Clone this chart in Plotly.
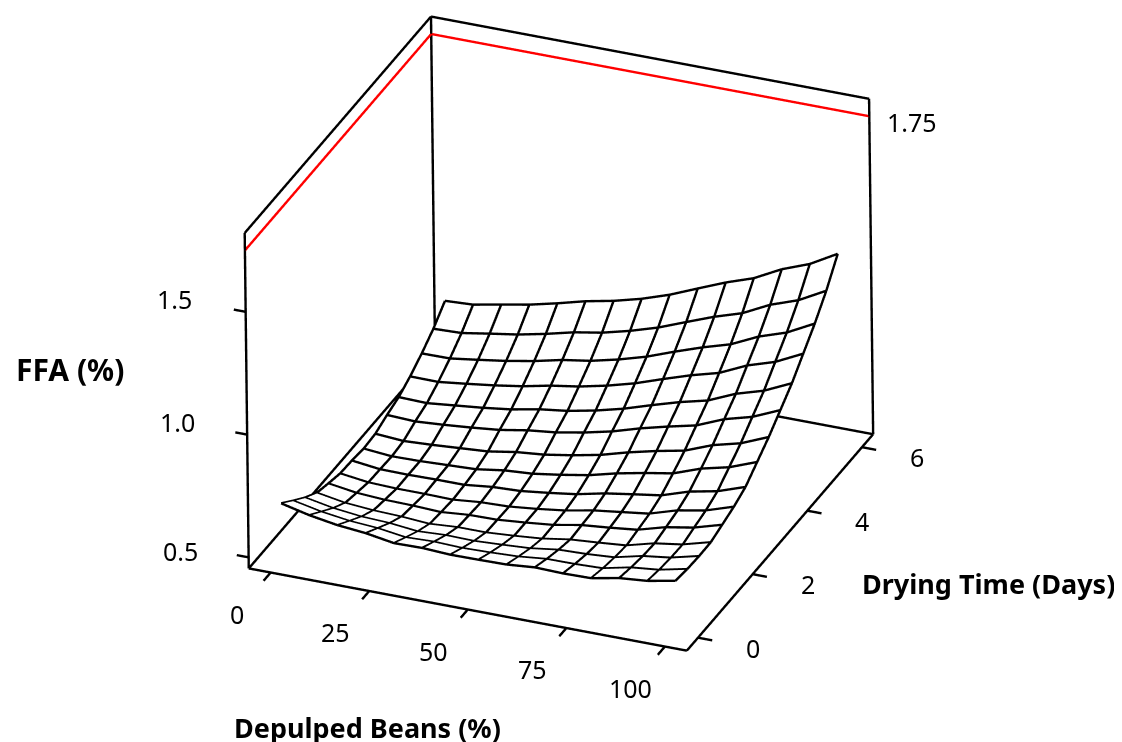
import math
import plotly.graph_objects as go

# Surface: one list of FFA values per drying-time row
depulped_beans = [0, 7.14, 14.29, 21.43, 28.57, 35.71, 42.86, 50, 57.14, 64.29, 71.43, 78.57, 85.71, 92.86, 100]
drying_days = [0, 0.43, 0.86, 1.29, 1.71, 2.14, 2.57, 3, 3.43, 3.86, 4.29, 4.71, 5.14, 5.57, 6]
ffa_00 = [.684,.657,.638,.627,.608,.610,.604,.605,.607,.617,.614,.616,.638,.648,.670]
ffa_01 = [.639,.615,.599,.591,.575,.579,.575,.578,.583,.595,.596,.600,.625,.637,.662]
ffa_02 = [.596,.574,.561,.556,.544,.550,.548,.554,.561,.577,.581,.589,.616,.631,.659]
ffa_03 = [.560,.540,.531,.527,.519,.527,.527,.535,.545,.563,.572,.582,.612,.629,.660]
ffa_04 = [.544,.527,.520,.518,.513,.523,.525,.535,.547,.568,.579,.592,.624,.644,.677]
ffa_05 = [.529,.514,.510,.510,.508,.519,.523,.535,.550,.572,.587,.602,.637,.658,.695]
ffa_06 = [.526,.512,.511,.513,.513,.526,.531,.545,.561,.586,.604,.621,.658,.681,.720]
ffa_07 = [.519,.509,.511,.516,.521,.538,.546,.563,.583,.612,.635,.655,.696,.723,.766]
ffa_08 = [.524,.516,.522,.530,.538,.557,.568,.587,.610,.642,.669,.692,.736,.765,.812]
ffa_09 = [.545,.540,.548,.558,.570,.590,.603,.624,.650,.684,.713,.739,.786,.817,.866]
ffa_10 = [.562,.559,.571,.583,.598,.620,.635,.658,.687,.723,.757,.785,.834,.868,.920]
ffa_11 = [.592,.591,.605,.620,.638,.662,.680,.705,.736,.775,.812,.843,.895,.931,.986]
ffa_12 = [.630,.631,.647,.664,.685,.711,.729,.756,.789,.831,.870,.904,.957,.995,1.053]
ffa_13 = [.675,.679,.698,.716,.740,.768,.788,.817,.852,.896,.939,.975,1.031,1.071,1.131]
ffa_14 = [.733,.739,.761,.782,.809,.839,.862,.892,.930,.977,1.023,1.062,1.120,1.163,1.226]
ffa = [ffa_00, ffa_01, ffa_02, ffa_03, ffa_04, ffa_05, ffa_06, ffa_07, ffa_08, ffa_09, ffa_10, ffa_11, ffa_12, ffa_13, ffa_14]

x_ticks = [0, 25, 50, 75, 100]
y_ticks = [0, 2, 4, 6]
z_ticks = [0.5, 1.0, 1.5]
z_tick_labels = ["0.5", "1.0", "1.5"]
limit_level = 1.75

# box limits
xlo, xhi = -5.56, 105.56
ylo, yhi = -0.409, 6.409
zlo, zhi = 0.455, 1.821

FONT = "Noto Sans"
TICK_SIZE = 25
TITLE_SIZE = 27
LINE_PX = 2.4

# view direction (towards the eye), in scaled scene space
d = (0.3406, -0.8104, 0.4765)
# data units per screen pixel along each axis
sx, sy, sz = 111.12 / 472, 6.818 / 478, 1.366 / 382


def ribbon(segments, color, width=LINE_PX, lift=0.0):
    """Thick line as a camera-facing Mesh3d strip (WebGL lines stay 1px wide)."""
    X, Y, Z, I, J, K = [], [], [], [], [], []
    for a, b in segments:
        A = (a[0] / sx, a[1] / sy, a[2] / sz)
        B = (b[0] / sx, b[1] / sy, b[2] / sz)
        t = (B[0] - A[0], B[1] - A[1], B[2] - A[2])
        w = (t[1] * d[2] - t[2] * d[1], t[2] * d[0] - t[0] * d[2], t[0] * d[1] - t[1] * d[0])
        n = math.sqrt(sum(c * c for c in w)) or 1
        w = tuple(c / n * width / 2 for c in w)
        n0 = len(X)
        for P, sgn in ((A, 1), (A, -1), (B, 1), (B, -1)):
            X.append((P[0] + sgn * w[0] + lift * d[0]) * sx)
            Y.append((P[1] + sgn * w[1] + lift * d[1]) * sy)
            Z.append((P[2] + sgn * w[2] + lift * d[2]) * sz)
        I += [n0, n0 + 1]
        J += [n0 + 1, n0 + 3]
        K += [n0 + 2, n0 + 2]
    return go.Mesh3d(x=X, y=Y, z=Z, i=I, j=J, k=K, color=color, flatshading=True,
                     lighting=dict(ambient=1, diffuse=0, specular=0, fresnel=0),
                     hoverinfo="skip", showscale=False)


fig = go.Figure()
fig.add_trace(go.Surface(
    x=depulped_beans, y=drying_days, z=ffa,
    colorscale=[[0, "white"], [1, "white"]], showscale=False, hoverinfo="skip",
    lighting=dict(ambient=1, diffuse=0, specular=0, fresnel=0, roughness=1),
    contours=dict(x=dict(highlight=False), y=dict(highlight=False), z=dict(highlight=False)),
))

# wire grid of the surface
grid = []
n = len(depulped_beans)
for j in range(n):
    for i in range(n - 1):
        grid.append(((depulped_beans[i], drying_days[j], ffa[j][i]), (depulped_beans[i + 1], drying_days[j], ffa[j][i + 1])))
        grid.append(((depulped_beans[j], drying_days[i], ffa[i][j]), (depulped_beans[j], drying_days[i + 1], ffa[i + 1][j])))
fig.add_trace(ribbon(grid, "black", lift=2.0))

box = [
    ((xlo, ylo, zlo), (xhi, ylo, zlo)), ((xhi, ylo, zlo), (xhi, yhi, zlo)),
    ((xhi, yhi, zlo), (xlo, yhi, zlo)), ((xlo, yhi, zlo), (xlo, ylo, zlo)),
    ((xlo, ylo, zlo), (xlo, ylo, zhi)), ((xlo, yhi, zlo), (xlo, yhi, zhi)),
    ((xhi, yhi, zlo), (xhi, yhi, zhi)),
    ((xlo, ylo, zhi), (xlo, yhi, zhi)), ((xlo, yhi, zhi), (xhi, yhi, zhi)),
]
box += [((v, ylo, zlo), (v, ylo - 0.26, zlo)) for v in x_ticks]
box += [((xhi, v, zlo), (xhi + 3.6, v, zlo)) for v in y_ticks]
box += [((xlo, ylo, v), (xlo - 3, ylo, v)) for v in z_ticks]
fig.add_trace(ribbon(box, "black"))
fig.add_trace(ribbon([((xlo, ylo, limit_level), (xlo, yhi, limit_level)),
                      ((xlo, yhi, limit_level), (xhi, yhi, limit_level))], "#ff0000"))

tick_font = dict(family=FONT, size=TICK_SIZE, color="black")
ann3d = []
for v in x_ticks:
    ann3d.append(dict(x=v, y=ylo, z=zlo, text=str(v), showarrow=False, xshift=-34, yshift=-41, font=tick_font))
for v in y_ticks:
    ann3d.append(dict(x=xhi, y=v, z=zlo, text=str(v), showarrow=False, xshift=55, yshift=-10, font=tick_font))
for v, t, xs, ys in zip(z_ticks, z_tick_labels, (-68, -70, -71), (6, 13, 13)):
    ann3d.append(dict(x=xlo, y=ylo, z=v, text=t, showarrow=False, xshift=xs, yshift=ys, font=tick_font))
ann3d.append(dict(x=xhi, y=yhi, z=limit_level, text="1.75", showarrow=False, xshift=43, yshift=-6, font=tick_font))

# camera: orthographic view with z up
R = 2.08
cx, cy, cz = 0.0548, -0.0352, -0.0975
hidden = dict(visible=False, showspikes=False)


def title(text, px, py, size=TITLE_SIZE):
    # the page has an 8px body margin
    return dict(text=f"<b>{text}</b>", x=(px - 8) / 1122, y=1 - (py - 8) / 742, xref="paper", yref="paper",
                xanchor="center", yanchor="middle", showarrow=False,
                font=dict(family=FONT, size=size, color="black"))


fig.update_layout(
    width=1122, height=742, margin=dict(l=0, r=0, t=0, b=0),
    paper_bgcolor="white", showlegend=False, hovermode=False,
    scene=dict(
        xaxis=dict(range=[-10, 110], **hidden),
        yaxis=dict(range=[-0.8, 6.5], **hidden),
        zaxis=dict(range=[0.44, 1.84], **hidden),
        aspectmode="manual", aspectratio=dict(x=1.38, y=1.407, z=1.054),
        camera=dict(
            projection=dict(type="orthographic"),
            up=dict(x=-0.1735, y=0.444, z=0.879),
            center=dict(x=cx, y=cy, z=cz),
            eye=dict(x=cx + R*d[0], y=cy + R*d[1], z=cz + R*d[2]),
        ),
        annotations=ann3d,
    ),
    annotations=[
        title("FFA (%)", 70, 369, 30),
        title("Depulped Beans (%)", 367, 727),
        title("Drying Time (Days)", 988, 583),
    ],
)
fig.write_html("out.html")
